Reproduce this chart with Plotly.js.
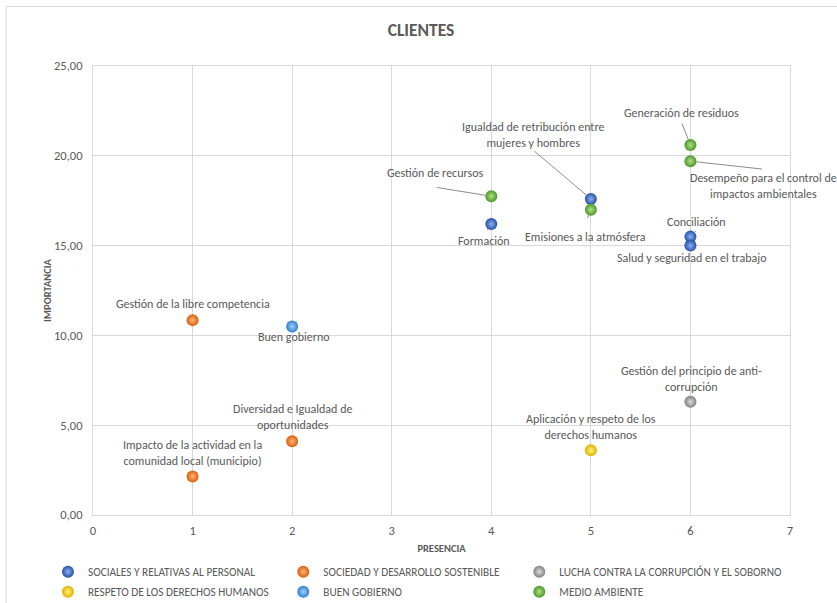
<!DOCTYPE html>
<html>
<head>
<meta charset="utf-8">
<script src="https://cdn.plot.ly/plotly-3.0.1.min.js"></script>
<style>
  html, body { margin: 0; padding: 0; background: #ffffff; }
  #chart { width: 837px; height: 603px; }
</style>
</head>
<body>
<div id="chart"></div>
<script>
// Grupos de aspectos (leyenda)
const categories = [
  'SOCIALES Y RELATIVAS AL PERSONAL',
  'SOCIEDAD Y DESARROLLO SOSTENIBLE',
  'LUCHA CONTRA LA CORRUPCIÓN Y EL SOBORNO',
  'RESPETO DE LOS DERECHOS HUMANOS',
  'BUEN GOBIERNO',
  'MEDIO AMBIENTE'
];

// Aspectos valorados por los clientes
const aspectos = [
  'Formación',
  'Igualdad de retribución entre<br>mujeres y hombres',
  'Conciliación',
  'Salud y seguridad en el trabajo',
  'Gestión de la libre competencia',
  'Impacto de la actividad en la<br>comunidad local (municipio)',
  'Diversidad e Igualdad de<br>oportunidades',
  'Gestión del principio de anti-<br>corrupción',
  'Aplicación y respeto de los<br>derechos humanos',
  'Buen gobierno',
  'Gestión de recursos',
  'Emisiones a la atmósfera',
  'Generación de residuos',
  'Desempeño para el control de<br>impactos ambientales'
];
const grupo       = [0, 0, 0, 0, 1, 1, 1, 2, 3, 4, 5, 5, 5, 5];
const presencia   = [4, 5, 6, 6, 1, 1, 2, 6, 5, 2, 4, 5, 6, 6];
const importancia = [16.2, 17.6, 15.5, 15.0, 10.85, 2.15, 4.1, 6.3, 3.6, 10.5, 17.75, 17.0, 20.6, 19.7];

const xTicks = [0, 1, 2, 3, 4, 5, 6, 7];
const yTicks = [0, 5, 10, 15, 20, 25];

// Estilo de cada grupo: color del borde de la esfera y brillo central
const sphereEdge   = ['#2650a8', '#d9600c', '#808080', '#e0b000', '#2d7fd2', '#4a9628'];
const sphereCenter = ['#8db0f0', '#ffb27a', '#dcdcdc', '#fff27a', '#a4d0f7', '#b2e184'];
const legendOf     = ['legend', 'legend2', 'legend3', 'legend', 'legend2', 'legend3'];

// Desplazamiento de cada etiqueta (px) y extremo de su línea guía (px, null = sin línea)
const labelShift = [
  [-7, 17], [-58, -64], [6, -15], [2, 12], [0, -16], [0, -23], [0, -24],
  [1, -23], [0, -23], [1.5, 11], [-56, -23], [-5, 27], [-9, -32], [73, 25]
];
const leaderEnd = [
  [-5, 8], [-58, -49], [7, -7], null, null, null, null,
  null, null, null, [-56, -9], [-4, 10], [-9, -23], [73, 8]
];

const FONT = "Carlito, Calibri, 'Liberation Sans Narrow', Lato, sans-serif";
const GREY = '#595959';
const GRID = '#d9d9d9';

const traces = categories.map((name, g) => {
  const idx = grupo.map((v, i) => v === g ? i : -1).filter(i => i >= 0);
  return {
    type: 'scatter',
    mode: 'markers',
    name: name,
    legend: legendOf[g],
    legendgroup: 'g' + g,
    x: idx.map(i => presencia[i]),
    y: idx.map(i => importancia[i]),
    text: idx.map(i => aspectos[i].replace('<br>', ' ')),
    hoverinfo: 'text',
    marker: {
      size: 12,
      color: sphereEdge[g],
      gradient: { type: 'radial', color: sphereCenter[g] },
      line: { width: 0 }
    }
  };
});

const annotations = [];
aspectos.forEach((label, i) => {
  const end = leaderEnd[i];
  if (end) {
    annotations.push({
      x: presencia[i], y: importancia[i], xref: 'x', yref: 'y',
      text: '', showarrow: true, arrowhead: 0, arrowwidth: 1,
      arrowcolor: '#8c8c8c', standoff: 6,
      ax: end[0], ay: end[1]
    });
  }
  annotations.push({
    x: presencia[i], y: importancia[i], xref: 'x', yref: 'y',
    text: label, showarrow: false,
    xanchor: 'center', yanchor: 'middle', align: 'center',
    xshift: labelShift[i][0], yshift: -labelShift[i][1],
    font: { family: FONT, size: 12, color: GREY }
  });
});

const legendBase = {
  orientation: 'v', yanchor: 'top', y: -0.094, xanchor: 'left',
  font: { family: FONT, size: 11.3, color: GREY },
  bgcolor: 'rgba(0,0,0,0)', tracegroupgap: 1, itemwidth: 30
};

const layout = {
  width: 837, height: 603,
  margin: { l: 93, r: 47, t: 66, b: 88, autoexpand: false },
  paper_bgcolor: '#ffffff', plot_bgcolor: '#ffffff',
  separators: ',.',
  font: { family: FONT, color: GREY },
  title: {
    text: '<b>CLIENTES</b>',
    font: { family: FONT, size: 17.5, color: GREY },
    x: 0.503, xanchor: 'center', y: 0.95, yanchor: 'middle'
  },
  xaxis: {
    range: [0, 7], tickvals: xTicks, ticktext: xTicks.map(String),
    showgrid: true, gridcolor: GRID, gridwidth: 1,
    zeroline: false, showline: true, linecolor: GRID, mirror: true,
    ticks: '', ticklabelstandoff: 4, tickfont: { family: FONT, size: 12.5, color: GREY },
    title: { text: '<b>PRESENCIA</b>', font: { family: FONT, size: 10.5, color: GREY }, standoff: 7 },
    fixedrange: true
  },
  yaxis: {
    range: [0, 25], tickvals: yTicks, tickformat: '.2f',
    showgrid: true, gridcolor: GRID, gridwidth: 1,
    zeroline: false, showline: true, linecolor: GRID, mirror: true,
    ticks: '', ticklabelstandoff: 7, tickfont: { family: FONT, size: 12.5, color: GREY },
    title: { text: '<b>IMPORTANCIA</b>', font: { family: FONT, size: 10.5, color: GREY }, standoff: 0 },
    fixedrange: true
  },
  showlegend: true,
  legend:  Object.assign({}, legendBase, { x: -0.0646 }),
  legend2: Object.assign({}, legendBase, { x: 0.273 }),
  legend3: Object.assign({}, legendBase, { x: 0.6116 }),
  annotations: annotations,
  shapes: [{
    // marco del área del gráfico
    type: 'rect', xref: 'paper', yref: 'paper',
    x0: -0.1248, x1: 1.2, y0: -0.25, y1: 1.1325,
    line: { color: GRID, width: 1 }, fillcolor: 'rgba(0,0,0,0)', layer: 'below'
  }]
};

Plotly.newPlot('chart', traces, layout, { displayModeBar: false, staticPlot: true });
</script>
</body>
</html>
